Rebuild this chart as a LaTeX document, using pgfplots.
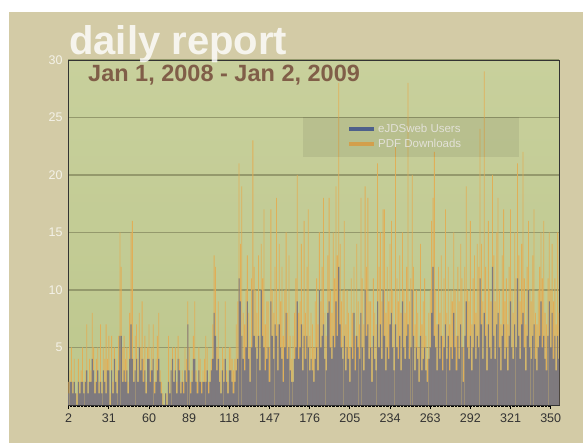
\documentclass[border=0pt]{standalone}
\usepackage{pgfplots}
\pgfplotsset{compat=1.18}
\usepackage{pgfplotstable}
\usetikzlibrary{backgrounds}
\usepackage{fontspec}
\setmainfont{Liberation Sans}
\definecolor{bgbeige}{RGB}{211,203,166}
\definecolor{plottop}{RGB}{200,208,156}
\definecolor{plotbot}{RGB}{189,199,141}
\definecolor{gridc}{RGB}{148,153,108}
\definecolor{userbar}{RGB}{122,119,128}
\definecolor{dlbar}{RGB}{228,172,82}
\definecolor{userleg}{RGB}{84,104,150}
\definecolor{titlebrown}{RGB}{128,94,72}
\definecolor{ticklab}{RGB}{244,242,232}
\pgfplotstableread{
day u d
2 1 2
3 2 3
4 2 5
5 1 2
6 2 4
7 1 1
8 0 1
9 2 4
10 1 2
11 2 3
12 2 5
13 1 2
14 2 3
15 3 7
16 1 2
17 2 4
18 2 3
19 4 8
20 3 5
21 1 2
22 2 4
23 3 5
24 1 2
25 2 7
26 1 2
27 3 5
28 2 4
29 1 7
30 3 4
31 3 6
32 0 1
33 3 6
34 1 2
35 4 5
36 2 4
37 1 3
38 3 6
39 6 15
40 6 12
41 2 5
42 3 6
43 2 4
44 3 5
45 1 2
46 4 8
47 7 15
48 4 16
49 2 4
50 3 6
51 4 7
52 2 4
53 5 8
54 3 5
55 4 9
56 2 4
57 3 6
58 1 2
59 4 5
60 4 7
61 2 3
62 3 5
63 4 7
64 1 2
65 2 4
66 3 6
67 4 8
68 2 3
69 1 2
70 0 1
71 0 0
72 1 1
73 0 1
74 2 6
75 1 2
76 3 4
77 4 5
78 2 3
79 3 5
80 1 2
81 4 6
82 3 4
83 1 2
84 2 3
85 1 2
86 3 5
87 2 4
88 7 9
89 3 5
90 1 2
91 2 3
92 4 6
93 4 9
94 2 3
95 1 2
96 3 5
97 2 4
98 1 2
99 2 3
100 2 4
101 2 6
102 3 5
103 1 2
104 2 3
105 3 4
106 4 7
107 8 13
108 6 12
109 3 5
110 4 9
111 2 4
112 1 3
113 3 5
114 2 4
115 4 9
116 2 3
117 1 2
118 3 5
119 3 5
120 2 4
121 1 3
122 2 4
123 3 7
124 4 9
125 11 21
126 9 14
127 6 19
128 4 8
129 3 7
130 5 10
131 9 13
132 4 8
133 2 5
134 5 11
135 10 23
136 6 12
137 5 10
138 4 8
139 6 13
140 3 6
141 10 14
142 6 11
143 5 17
144 3 7
145 4 9
146 5 9
147 2 5
148 9 17
149 6 10
150 4 8
151 7 12
152 6 18
153 3 7
154 7 14
155 5 9
156 4 12
157 2 6
158 5 10
159 8 15
160 4 8
161 5 13
162 3 6
163 2 4
164 2 6
165 4 8
166 5 11
167 9 20
168 4 8
169 5 9
170 7 14
171 3 7
172 6 16
173 4 8
174 6 12
175 5 17
176 3 6
177 4 8
178 3 7
179 2 5
180 4 9
181 5 11
182 3 7
183 10 15
184 5 9
185 6 12
186 7 18
187 4 8
188 3 6
189 8 13
190 9 18
191 5 10
192 4 8
193 6 15
194 5 11
195 9 19
196 6 13
197 12 28
198 7 14
199 5 9
200 4 10
201 6 16
202 3 7
203 5 10
204 4 8
205 2 5
206 5 11
207 4 8
208 8 12
209 3 6
210 6 14
211 5 9
212 4 7
213 8 18
214 5 11
215 3 7
216 10 19
217 6 12
218 7 18
219 4 9
220 5 9
221 2 5
222 6 11
223 4 8
224 3 7
225 9 21
226 5 12
227 7 15
228 4 9
229 10 17
230 6 17
231 3 8
232 5 12
233 4 9
234 7 14
235 8 16
236 5 10
237 3 7
238 7 23
239 5 11
240 4 9
241 6 13
242 3 8
243 9 15
244 5 10
245 4 8
246 6 12
247 7 28
248 4 9
249 5 11
250 10 20
251 6 12
252 3 7
253 5 10
254 4 8
255 2 5
256 6 14
257 3 7
258 4 9
259 5 11
260 3 6
261 2 4
262 4 8
263 5 10
264 8 16
265 12 18
266 6 22
267 5 10
268 3 7
269 7 12
270 4 8
271 6 13
272 3 6
273 5 11
274 7 17
275 4 8
276 6 12
277 3 7
278 5 10
279 4 9
280 8 15
281 5 10
282 3 6
283 6 12
284 4 9
285 7 14
286 5 11
287 2 5
288 6 12
289 9 19
290 5 10
291 4 9
292 6 16
293 3 7
294 5 11
295 7 13
296 4 8
297 6 14
298 5 12
299 11 24
300 7 14
301 4 9
302 8 29
303 6 12
304 3 7
305 7 16
306 5 10
307 4 9
308 12 20
309 6 13
310 4 9
311 7 15
312 8 18
313 5 10
314 3 7
315 6 13
316 7 17
317 4 9
318 5 11
319 3 7
320 6 12
321 9 17
322 5 10
323 4 8
324 7 15
325 5 11
326 11 21
327 6 13
328 4 9
329 7 14
330 8 22
331 5 11
332 3 7
333 6 12
334 10 16
335 5 10
336 4 9
337 6 13
338 7 17
339 4 8
340 3 7
341 5 10
342 6 12
343 9 15
344 5 11
345 6 16
346 4 8
347 3 7
348 6 11
349 9 15
350 5 10
351 8 14
352 4 9
353 6 11
354 3 7
355 6 15
356 4 8
}\dailydata
\begin{document}
\begin{tikzpicture}[x=1pt,y=1pt]
\begin{axis}[
  width=491pt, height=345pt, scale only axis,
  xmin=1.5, xmax=356, ymin=0, ymax=30,
  axis background/.style={top color=plottop, bottom color=plotbot},
  axis line style={draw=black!80, line width=0.9pt},
  xtick={2,31,60,89,118,147,176,205,234,263,292,321,350},
  minor x tick num=28,
  ytick={5,10,15,20,25,30},
  ymajorgrids, grid style={gridc, line width=1.2pt},
  tick align=outside,
  major tick length=4pt, minor tick length=2pt,
  x tick style={black, line width=0.8pt},
  minor x tick style={black, line width=0.6pt},
  y tick style={draw=none},
  xtick pos=bottom,
  /pgf/number format/assume math mode=true,
  x tick label style={font=\fontsize{12.5}{12.5}\selectfont, text=black!80, yshift=-1pt},
  y tick label style={font=\fontsize{12.5}{12.5}\selectfont, text=ticklab, xshift=2pt},
  legend style={at={(0.562,0.825)}, anchor=north west, draw=none, fill=none,
     font=\fontsize{11.5}{12}\selectfont, text=ticklab, row sep=1pt},
  legend cell align=left,
  legend image code/.code={\draw[line width=4pt, #1] (0pt,0pt) -- (25pt,0pt);},
]
\addplot[ybar, bar width=0.6, bar shift=0pt, fill=dlbar, draw=none, fill opacity=0.9, forget plot] table[x=day,y=d]{\dailydata};
\addplot[ybar, bar width=0.8, bar shift=0pt, fill=userbar, draw=none, fill opacity=0.95, forget plot] table[x=day,y=u]{\dailydata};
\addlegendimage{userleg}
\addlegendentry{eJDSweb Users}
\addlegendimage{dlbar}
\addlegendentry{PDF Downloads}
\coordinate (SW) at (rel axis cs:0,0);
\end{axis}
\begin{scope}[shift={(SW)}, xshift=-68pt, yshift=-38pt]
\begin{scope}[on background layer]
\fill[white] (0,0) rectangle (583,443);
\fill[bgbeige] (9,0) rectangle (583,431);
\end{scope}
\fill[black, opacity=0.07] (303,286) rectangle (519,326);
\node[anchor=base west, inner sep=0pt, text=white, opacity=0.8, font=\bfseries\fontsize{40}{40}\selectfont] at (69,388) {daily report};
\node[anchor=base west, inner sep=0pt, text=titlebrown, font=\bfseries\fontsize{23.5}{23.5}\selectfont] at (88,361) {Jan 1, 2008 - Jan 2, 2009};
\end{scope}
\end{tikzpicture}
\end{document}
